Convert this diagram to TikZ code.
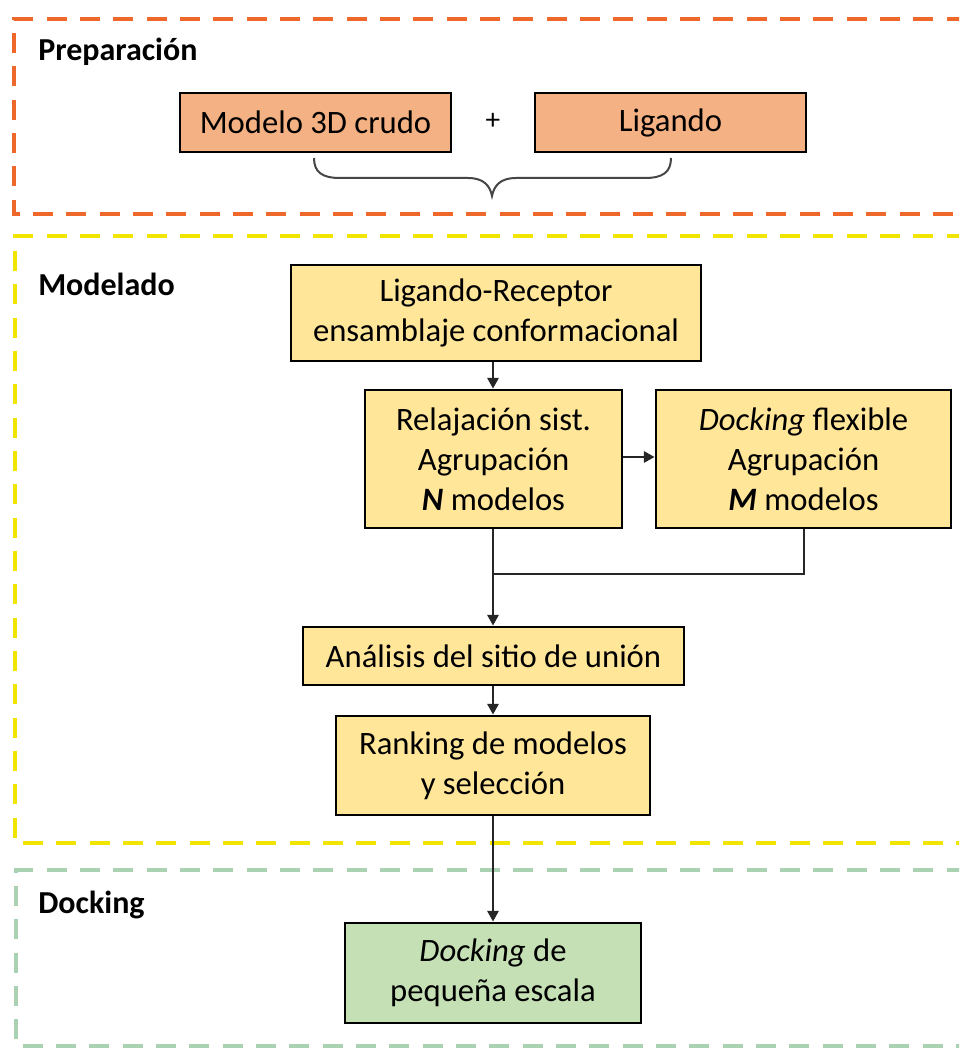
\documentclass[tikz,border=0pt]{standalone}
\usepackage{fontspec}
\setmainfont{Carlito}
\usetikzlibrary{arrows.meta}
\definecolor{boxorange}{RGB}{244,177,131}
\definecolor{boxyellow}{RGB}{255,230,153}
\definecolor{boxgreen}{RGB}{197,224,180}
\definecolor{dashorange}{RGB}{238,104,44}
\definecolor{dashyellow}{RGB}{240,228,0}
\definecolor{dashgreen}{RGB}{170,210,178}
\definecolor{bracegray}{RGB}{70,70,70}
\tikzset{
  stepbox/.style={draw=black, line width=2.2pt, align=center, inner sep=0pt,
    font=\fontsize{24.5}{30}\selectfont},
  orangebox/.style={stepbox, fill=boxorange},
  yellowbox/.style={stepbox, fill=boxyellow},
  greenbox/.style={stepbox, fill=boxgreen},
  sectitle/.style={anchor=west, font=\fontsize{24}{30}\selectfont\bfseries, inner sep=0pt},
  flow/.style={line width=1.5pt, draw=black!85},
  flowarrow/.style={flow, -{Triangle[length=8pt,width=8.5pt]}},
  zone/.style={line width=3pt, dash pattern=on 15pt off 10pt}
}
\begin{document}
\begin{tikzpicture}[x=0.75pt, y=-0.75pt]
\clip (0,0) rectangle (959,1048);
\fill[white] (0,0) rectangle (959,1048);
% zones
\draw[zone, dashorange] (1100,19) -- (14,19) -- (14,214) -- (1100,214);
\draw[zone, dashyellow] (1100,236) -- (15,236) -- (15,843) -- (1100,843);
\draw[zone, dashgreen, line width=2.5pt] (1100,870) -- (16,870) -- (16,1046) -- (1100,1046);
% titles
\node[sectitle] (tprep) at (38,52) {Preparación};
\node[sectitle] (tmod) at (38,284) {Modelado};
\node[sectitle] (tdock) at (38,905) {Docking};
% boxes
\node[orangebox, minimum width=203.25pt, minimum height=44.25pt] (m3d) at (315.5,122.5) {Modelo 3D crudo};
\node[orangebox, minimum width=203.25pt, minimum height=44.25pt] (lig) at (670.5,122.5) {Ligando};
\node[font=\fontsize{22}{26}\selectfont] (plus) at (493,121) {+};
\draw[bracegray, line width=1.5pt] (314,158) .. controls (314,172) and (322,178) .. (340,178)
  -- (468,178) .. controls (484,178) and (490,186) .. (492,196)
  .. controls (494,186) and (500,178) .. (516,178)
  -- (645,178) .. controls (663,178) and (671,172) .. (671,158);
\node[yellowbox, minimum width=307.5pt, minimum height=72pt] (lr) at (496,313)
  {Ligando-Receptor\\ensamblaje conformacional};
\node[yellowbox, minimum width=192.75pt, minimum height=103.5pt] (rel) at (493.5,459)
  {Relajación sist.\\Agrupación\\\textbf{\textit{N}} modelos};
\node[yellowbox, minimum width=221.25pt, minimum height=103.5pt] (dock) at (803.5,459)
  {\textit{Docking} flexible\\Agrupación\\\textbf{\textit{M}} modelos};
\node[yellowbox, minimum width=285.75pt, minimum height=43.5pt] (ana) at (493.5,656)
  {Análisis del sitio de unión};
\node[yellowbox, minimum width=235.5pt, minimum height=74.25pt] (rank) at (493,765.5)
  {Ranking de modelos\\y selección};
\node[greenbox, minimum width=222pt, minimum height=75pt] (small) at (493,973)
  {\textit{Docking} de\\pequeña escala};
% connectors
\coordinate (j) at (493,574);
\draw[flowarrow] (j |- lr.south) -- (j |- rel.north);
\draw[flowarrow] (rel.east |- 0,457) -- (dock.west |- 0,457);
\draw[flowarrow] (j |- rel.south) -- (j |- ana.north);
\draw[flow] (dock.south) |- (j);
\draw[flowarrow] (j |- ana.south) -- (j |- rank.north);
\draw[flowarrow] (j |- rank.south) -- (j |- small.north);
\end{tikzpicture}
\end{document}
